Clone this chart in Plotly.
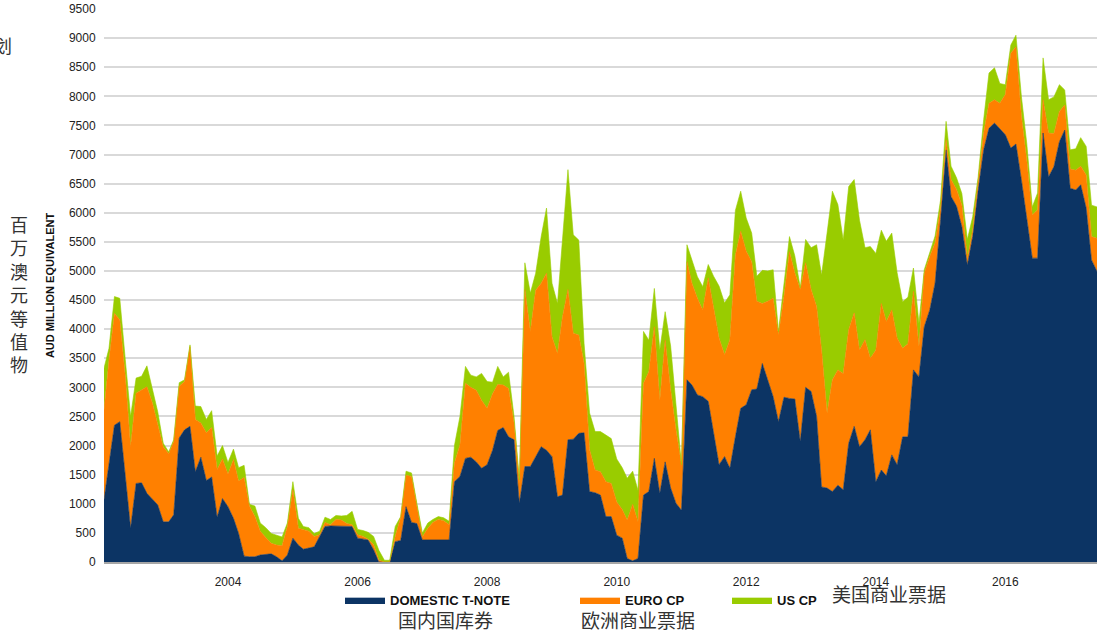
import pandas as pd
import plotly.graph_objects as go

# Monthly observations, Feb 2002 - Jun 2017 (AUD million equivalent)
dates = pd.date_range("2002-02-01", periods=185, freq="MS")

domestic_t_note = [
    1070, 1700, 2350, 2410, 1470, 580, 1350, 1360, 1180, 1070, 980, 690, 690, 810, 2130, 2270,
    2330, 1550, 1800, 1400, 1460, 770, 1090, 950, 750, 490, 100, 90, 90, 120, 130,
    140, 90, 20, 120, 410, 290, 220, 240, 260, 440, 610, 620, 620, 620, 620, 610,
    410, 400, 380, 210, 0, 0, 0, 350, 370, 950, 680, 660, 380, 380, 380,
    380, 380, 380, 1380, 1470, 1780, 1800, 1720, 1610, 1670, 1920, 2260, 2310, 2150, 2100,
    1010, 1640, 1640, 1810, 1980, 1920, 1810, 1120, 1150, 2100, 2110, 2210, 2220, 1210, 1190, 1150,
    780, 780, 460, 410, 60, 20, 60, 1150, 1210, 1780, 1180, 1720, 1270, 1010, 890,
    3130, 3040, 2870, 2840, 2760, 2210, 1670, 1810, 1610, 2150, 2640, 2700, 2960, 2970, 3410,
    3130, 2840, 2410, 2830, 2810, 2800, 2070, 3000, 2930, 2500, 1290, 1270, 1210, 1320, 1240,
    2040, 2330, 1980, 2100, 2270, 1380, 1580, 1480, 1840, 1670, 2150, 2150, 3300, 3180, 4040, 4330,
    4790, 5880, 7080, 6280, 6110, 5760, 5100, 5590, 6390, 7080, 7450, 7540, 7450, 7340, 7110,
    7180, 6560, 5930, 5220, 5220, 7370, 6620, 6790, 7220, 7420, 6420, 6390, 6480, 6080, 5190, 4990,
]

euro_cp = [
    1540, 1760, 1920, 1750, 1720, 1400, 1550, 1590, 1830, 1660, 1400, 1290, 1170, 1260, 890, 830,
    1370, 900, 590, 820, 850, 820, 680, 560, 1010, 900, 1350, 870, 690, 410, 290,
    180, 200, 260, 490, 830, 290, 330, 290, 180, 30, 70, 20, 110, 100, 40, 30,
    60, 40, 10, 90, 30, 0, 0, 90, 400, 540, 790, 290, 50, 200, 300,
    350, 330, 260, 320, 540, 1290, 1200, 1230, 1170, 970, 970, 790, 730, 830, 290,
    340, 3040, 2320, 2860, 2810, 3040, 2060, 2460, 3060, 2580, 1820, 1690, 1190, 720, 390, 400,
    600, 570, 570, 490, 660, 970, 630, 1920, 2060, 2260, 1600, 2090, 1690, 1260, 780,
    2030, 1750, 1660, 1490, 2120, 2180, 2180, 1750, 2210, 3120, 3040, 2640, 2200, 1510, 1030,
    1350, 1690, 1490, 1730, 2520, 2170, 2610, 2140, 1750, 1890, 2350, 1290, 1920, 1980, 2000,
    1950, 1950, 1660, 1720, 1230, 2260, 2860, 2650, 2490, 2180, 1520, 1600, 1350, 520, 920, 920,
    690, 200, 170, 290, 290, 370, 120, 110, 120, 290, 430, 400, 430, 690, 1630,
    1670, 1090, 970, 740, 830, 570, 750, 570, 520, 430, 330, 340, 320, 570, 400, 570,
]

us_cp = [
    720, 210, 290, 370, 290, 520, 260, 240, 360, 230, 200, 60, 30, 30, 60, 30,
    30, 230, 280, 230, 290, 230, 230, 200, 180, 230, 210, 30, 180, 140, 170,
    170, 170, 150, 60, 140, 170, 60, 60, 50, 60, 90, 90, 70, 70, 140, 230,
    90, 100, 120, 140, 170, 30, 30, 170, 10, 70, 60, 60, 70, 90, 50,
    50, 50, 60, 300, 490, 290, 210, 230, 460, 460, 200, 310, 140, 280, 110,
    60, 460, 660, 290, 800, 1120, 920, 860, 1380, 2060, 1690, 1630, 340, 630, 660, 690,
    800, 770, 740, 720, 720, 570, 540, 890, 540, 660, 860, 490, 750, 430, 0,
    290, 400, 370, 400, 230, 520, 890, 890, 770, 770, 690, 570, 490, 430, 570,
    520, 490, 60, 230, 260, 290, 30, 400, 720, 1060, 1290, 3090, 3240, 2840, 2290,
    2460, 2290, 2230, 1580, 1920, 1660, 1260, 1380, 1320, 1120, 800, 800, 400, 400, 60, 60,
    120, 140, 320, 230, 200, 200, 320, 230, 110, 230, 520, 550, 340, 170, 140,
    200, 340, 290, 140, 290, 720, 570, 630, 460, 260, 330, 370, 490, 490, 540, 540,
]

series_names = ["DOMESTIC T-NOTE", "EURO CP", "US CP"]
series_colors = ["#0c3464", "#ff8000", "#99cc00"]
series_values = [domestic_t_note, euro_cp, us_cp]
legend_ids = ["legend", "legend2", "legend3"]

y_ticks = list(range(0, 9501, 500))
x_ticks = ["2004-01-01", "2006-01-01", "2008-01-01", "2010-01-01",
           "2012-01-01", "2014-01-01", "2016-01-01"]
x_tick_labels = ["2004", "2006", "2008", "2010", "2012", "2014", "2016"]

W, H = 1098, 631
L, R, T, B = 104, 1, 9, 69
PW, PH = W - L - R, H - T - B


def px(x):
    return (x - L) / PW


def py(y):
    return (H - B - y) / PH


fig = go.Figure()
for name, color, vals, lg in zip(series_names, series_colors, series_values, legend_ids):
    fig.add_trace(go.Scatter(
        x=dates, y=vals, name=name, mode="lines", stackgroup="one",
        line=dict(color=color, width=0.6), fillcolor=color, legend=lg,
    ))

legend_font = dict(family="Liberation Sans, Arial", size=13, color="#111111", weight="bold")
legend_common = dict(orientation="h", xanchor="left", yanchor="middle", y=py(600),
                     font=legend_font, bgcolor="rgba(0,0,0,0)", itemwidth=40,
                     itemclick=False, itemdoubleclick=False)

ann_font = dict(family="Noto Sans CJK SC", size=19, color="#333333")
annotations = [
    dict(text="国内国库券", x=px(445), y=py(619), xref="paper", yref="paper",
         showarrow=False, font=ann_font, xanchor="center", yanchor="middle"),
    dict(text="欧洲商业票据", x=px(638), y=py(619), xref="paper", yref="paper",
         showarrow=False, font=ann_font, xanchor="center", yanchor="middle"),
    dict(text="美国商业票据", x=px(889), y=py(593), xref="paper", yref="paper",
         showarrow=False, font=ann_font, xanchor="center", yanchor="middle"),
    dict(text="<br>".join("百万澳元等值物"), x=px(19), y=py(294), xref="paper", yref="paper",
         showarrow=False, font=dict(family="Noto Sans CJK SC", size=18, color="#333333"),
         xanchor="center", yanchor="middle"),
    dict(text="划", x=px(3), y=py(45), xref="paper", yref="paper",
         showarrow=False, font=dict(family="Noto Sans CJK SC", size=18, color="#333333"),
         xanchor="center", yanchor="middle"),
]

fig.update_layout(
    width=W, height=H,
    margin=dict(l=L, r=R, t=T, b=B),
    paper_bgcolor="white", plot_bgcolor="white",
    showlegend=True,
    legend=dict(x=px(340), **legend_common),
    legend2=dict(x=px(575), **legend_common),
    legend3=dict(x=px(727), **legend_common),
    annotations=annotations,
    xaxis=dict(
        range=["2002-02-01", "2017-06-01"],
        tickvals=x_ticks, ticktext=x_tick_labels,
        showgrid=False, zeroline=False,
        showline=True, linecolor="#a6a6a6", linewidth=1.5,
        ticks="outside", ticklen=8, tickcolor="rgba(0,0,0,0)",
        tickfont=dict(family="Liberation Sans, Arial", size=12, color="#222222"),
    ),
    yaxis=dict(
        range=[0, 9500], tickvals=y_ticks,
        showgrid=True, gridcolor="#d9d9d9", gridwidth=1.5,
        zeroline=False, showline=False,
        ticks="outside", ticklen=5, tickcolor="rgba(0,0,0,0)",
        tickfont=dict(family="Liberation Sans, Arial", size=12, color="#222222"),
        title=dict(text="AUD MILLION EQUIVALENT", standoff=12,
                   font=dict(family="Liberation Sans, Arial", size=11,
                             color="#111111", weight="bold")),
    ),
)

fig.write_html(
    "out.html",
    config={"displayModeBar": False},
    post_script="document.body.style.margin='0';document.body.style.overflow='hidden';",
)
